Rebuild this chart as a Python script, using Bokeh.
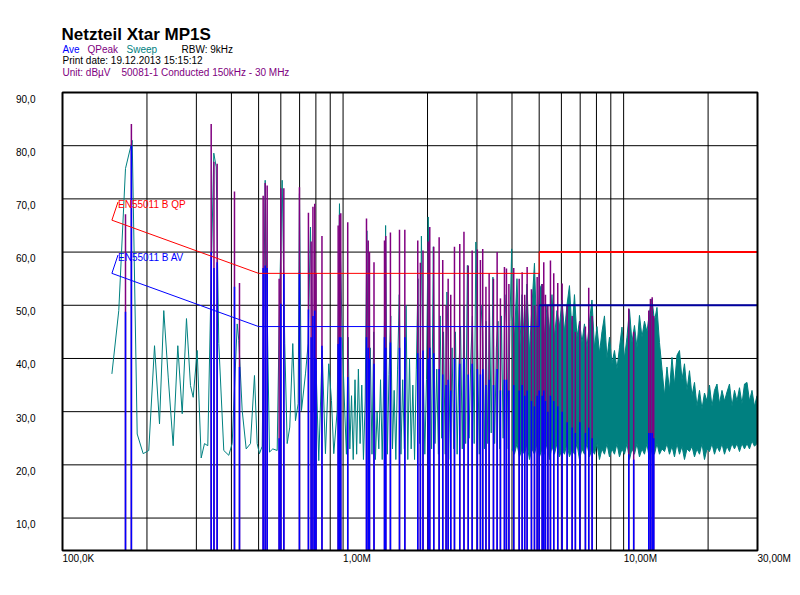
import math
from bokeh.plotting import figure
from bokeh.models import Range1d, ColumnDataSource
from bokeh.core.properties import value
from bokeh.embed import file_html
from bokeh.resources import INLINE

# ---------------- data (frequency in kHz, level in dBuV) ----------------
sweep_f = [150, 158.7, 167.7, 177.2, 184.6, 193.9, 203.0, 212.8, 221.7, 229.6, 238.1, 248.0, 257.6,
           267.1, 276.6, 285.9, 292.3, 302.0, 312.1, 320.7, 329.5, 336.9, 346.1, 353.0, 360.6, 375.7,
           391.4, 402.5, 419.4, 425.0, 437.0, 451.6, 467.7, 483.3, 494.1, 503.5, 515.0, 527.7, 536.4,
           546.7, 561.7, 582.3, 593.4, 606.7, 619.7, 632.1, 645.7, 661.8, 676.7, 691.8, 699.0, 710.7,
           734.5, 750.9, 765.2, 786.2, 801.8, 819.1, 842.3, 865.4, 889.2, 909.3, 926.7, 952.8, 971.0,
           992.7,
           1014, 1028, 1043, 1057, 1072, 1087, 1103, 1118, 1134, 1150, 1166, 1182, 1199, 1216, 1233,
           1250, 1268, 1286, 1304, 1322, 1341, 1360, 1379, 1398, 1418, 1438, 1458, 1479, 1500, 1521,
           1542, 1564, 1586, 1608, 1631, 1654, 1677, 1701, 1725, 1749, 1773, 1798, 1824, 1849, 1875,
           1902, 1929, 1956, 1983, 2011, 2039, 2068, 2097, 2127, 2157, 2187, 2218, 2249, 2281, 2313,
           2345, 2378, 2412, 2446, 2480, 2515, 2550, 2586, 2623, 2660, 2697, 2735, 2774, 2813, 2852,
           2892, 2933, 2974, 3016, 3059, 3102, 3145, 3190, 3235, 3280, 3326, 3373, 3421, 3469, 3518,
           3567, 3617, 3668, 3720, 3772, 3826, 3880, 3934, 3990]
sweep_db = [37.1, 49.0, 75.7, 81.0, 25.8, 22.1, 22.7, 42.4, 27.7, 49.0, 36.5, 23.6, 42.4,
            29.6, 47.5, 34.9, 32.7, 41.5, 21.3, 24.0, 23.6, 49.0, 78.6, 76.0, 42.8, 22.7,
            21.8, 24.0, 46.5, 43.4, 30.2, 23.0, 24.0, 36.8, 24.0, 22.1, 23.5, 73.5, 49.0,
            22.4, 23.0, 22.7, 50.3, 73.5, 42.8, 24.0, 27.1, 42.8, 28.3, 31.5, 71.0, 30.2,
            37.1, 42.8, 64.7, 30.2, 37.7, 20.8, 41.5, 22.1, 39.0, 32.1, 22.1, 30.2, 69.1,
            44.0,
            30.0, 22.0, 44.0, 23.0, 33.0, 21.0, 36.0, 22.0, 38.0, 24.0, 35.0, 21.0, 32.0, 64.0, 26.0,
            42.0, 22.0, 45.0, 21.0, 30.0, 23.0, 36.0, 21.0, 38.0, 65.0, 22.0, 37.0, 48.0, 23.0, 34.0,
            21.0, 38.0, 52.0, 22.0, 36.0, 23.0, 50.0, 21.0, 40.0, 23.0, 35.0, 21.0, 38.0, 55.0, 24.0,
            63.0, 40.0, 22.0, 36.0, 66.6, 44.0, 23.0, 61.0, 24.0, 38.0, 22.0, 48.0, 25.0, 45.0, 22.0,
            52.5, 40.0, 21.0, 42.0, 23.0, 45.0, 22.0, 38.0, 46.0, 23.0, 50.0, 24.0, 57.5, 25.0, 40.0,
            48.0, 24.0, 61.9, 42.0, 22.0, 50.0, 45.0, 23.0, 47.0, 24.0, 50.0, 26.0, 55.3, 24.0, 42.0,
            47.0, 23.0, 48.0, 25.0, 52.0, 46.0, 23.0, 47.0, 60.6]

# dense part of the sweep: upper and lower edge of the trace
band_f = [4000, 4083, 4167, 4253, 4341, 4431, 4523, 4617, 4713, 4810, 4910, 5012, 5116, 5222,
          5330, 5441, 5553, 5669, 5786, 5906, 6029, 6153, 6281, 6411, 6544, 6680, 6818, 6960,
          7104, 7251, 7402, 7555, 7712, 7872, 8035, 8201, 8371, 8545, 8722, 8903, 9087, 9276,
          9468, 9665, 9865, 10070, 10278, 10491, 10709, 10931, 11158, 11389, 11625, 11866, 12112,
          12363, 12619, 12881, 13148, 13420, 13699, 13983, 14272, 14568, 14870, 15179, 15493,
          15815, 16142, 16477, 16819, 17167, 17523, 17887, 18257, 18636, 19022, 19417, 19819,
          20230, 20650, 21078, 21515, 21961, 22416, 22881, 23355, 23839, 24333, 24838, 25353,
          25878, 26415, 26963, 27521, 28092, 28674, 29269, 29875]
band_hi = [48.0, 44.0, 55.0, 40.0, 52.0, 42.0, 54.0, 41.0, 50.0, 57.9, 43.0, 53.0, 54.0, 44.0,
           50.0, 45.0, 52.0, 44.0, 49.0, 46.0, 51.0, 45.0, 50.0, 53.7, 45.0, 52.0, 44.0, 47.0,
           43.0, 46.5, 42.0, 47.0, 51.0, 42.0, 46.0, 41.0, 45.0, 48.0, 40.0, 44.0, 39.0, 41.5,
           38.0, 42.0, 45.9, 40.0, 44.0, 49.2, 43.0, 46.2, 42.0, 48.1, 44.0, 47.0, 45.0,
           48.7, 51.2, 47.0, 49.6, 43.0, 38.0, 33.0, 38.4, 34.0, 40.2, 35.0, 40.6,
           41.5, 36.0, 39.0, 34.0, 37.7, 33.0, 35.5, 31.0, 34.0, 30.5, 33.5, 32.0,
           35.0, 31.0, 34.0, 35.2, 31.5, 34.0, 32.0, 33.7, 35.2, 31.0, 34.0, 32.0,
           34.5, 31.5, 35.2, 35.5, 32.0, 34.0, 31.0, 33.0]
band_lo = [23.0, 22.0, 24.0, 21.5, 23.0, 22.0, 24.0, 21.0, 23.0, 22.0, 24.0, 21.5, 23.0, 22.0,
           24.0, 21.0, 23.5, 22.0, 24.0, 21.5, 23.0, 22.0, 24.0, 21.5, 23.0, 22.0, 24.0, 21.0,
           23.0, 22.0, 24.0, 21.5, 23.0, 22.0, 24.0, 21.0, 23.0, 22.0, 24.0, 21.5, 23.0, 22.0,
           24.0, 21.5, 23.0, 22.0, 24.0, 21.0, 23.0, 22.0, 24.0, 21.5, 23.0, 22.0, 24.0,
           21.0, 23.0, 22.0, 24.0, 22.0, 23.0, 22.5, 24.0, 22.0, 23.5, 21.5, 24.0,
           22.0, 23.5, 21.0, 23.0, 22.5, 23.5, 21.5, 23.0, 22.0, 24.0, 21.0, 23.0,
           22.5, 24.0, 22.0, 23.5, 22.5, 24.0, 22.0, 23.5, 22.5, 24.0, 23.0, 24.0,
           22.5, 24.0, 23.0, 24.0, 23.0, 24.5, 23.5, 24.0]

# final measurements (QPeak / Average) at the detected peaks
peak_f = [167.7, 176.0, 338.8, 346.6, 355.8, 410.2, 427.4, 519.0, 527.7, 536.4, 591.8, 600.0,
          615.0, 699.0, 752.6, 769.4, 780.9, 792.5, 800.8, 841.0, 960.5, 971.0, 981.3, 1039,
          1212, 1229, 1242, 1289, 1405, 1420, 1475, 1589, 1660, 1846, 1886, 1927, 2011, 2037,
          2105, 2200, 2266, 2329, 2369, 2420, 2495, 2606, 2697, 2793, 2885, 3010, 3087, 3146,
          3230, 3316, 3436, 3541, 3638, 3760, 3822, 3900, 4058, 4243, 4348, 4440, 4530, 4693,
          4810, 4918, 5000, 5124, 5192, 5264, 5370, 5485, 5635, 5823, 6037, 6290, 6553, 6730,
          6980, 7308, 7509, 7721, 10430, 10860, 12290, 12460, 12640, 12800]
peak_qp = [67.1, 84.1, 84.1, 77.0, 76.6, 71.4, 54.2, 70.6, 73.0, 72.5, 55.0, 72.0,
           72.0, 72.2, 67.4, 62.0, 68.5, 69.1, 56.0, 63.0, 65.0, 67.0, 67.3, 65.6,
           66.3, 62.2, 60.0, 58.1, 62.2, 63.0, 63.7, 64.2, 64.2, 62.2, 58.0, 60.3, 62.0, 64.7,
           61.0, 62.8, 58.5, 50.0, 55.0, 52.0, 61.0, 61.5, 63.8, 57.5, 60.3, 60.5, 58.5, 60.6,
           53.5, 56.0, 55.0, 60.0, 51.3, 57.2, 56.9, 54.0, 57.0, 55.0, 56.2, 52.0, 57.2, 53.0,
           50.0, 55.3, 56.0, 54.0, 58.1, 52.0, 50.0, 58.4, 56.0, 54.2, 54.1, 50.0, 48.0, 45.0,
           47.0, 46.0, 53.3, 48.0, 49.4, 45.0, 49.0, 51.2, 51.5, 48.0]
peak_av = [48.8, 80.0, 60.0, 57.0, 58.1, 53.5, 38.4, 57.0, 57.5, 57.0, 25.0, 50.3,
           56.0, 56.2, 49.2, 44.0, 48.0, 49.0, 40.0, 42.4, 42.7, 44.0, 44.0, 36.5,
           44.0, 42.0, 40.0, 39.0, 44.0, 42.0, 43.0, 42.0, 44.0, 41.0, 40.0, 41.5, 40.0, 42.0,
           41.0, 38.0, 37.0, 35.0, 36.0, 34.0, 40.0, 39.0, 40.0, 37.0, 39.0, 38.0, 37.0, 38.0,
           35.0, 36.0, 35.0, 38.0, 34.0, 36.0, 36.0, 34.0, 35.0, 34.0, 35.0, 33.0, 34.0, 32.0,
           31.0, 33.0, 34.0, 33.0, 34.0, 32.0, 30.0, 33.0, 32.0, 31.0, 30.0, 28.0, 27.0, 26.0,
           28.0, 26.0, 27.0, 25.0, 22.0, 21.0, 26.0, 26.0, 26.0, 25.0]

# EN55011 class B limits
limit_f = [150, 500, 5000, 5000, 30000]
limit_qp = [66, 56, 56, 60, 60]
limit_av = [56, 46, 46, 50, 50]

# axis ticks / labels
y_ticks = [10, 20, 30, 40, 50, 60, 70, 80, 90]
y_tick_labels = ["10,0", "20,0", "30,0", "40,0", "50,0", "60,0", "70,0", "80,0", "90,0"]
x_label_ticks = [100, 1000, 10000, 30000]
x_tick_labels = ["100,0K", "1,00M", "10,00M", "30,00M"]

# ---------------- layout / styling ----------------
FONT = "Liberation Sans"
TEAL = "#008080"
PURPLE = "#800080"
BLUE = "#0000ff"
RED = "#ff0000"

F_MIN, F_MAX = 100, 30000
Y_MIN, Y_MAX = 3.9, 90
BOX_L, BOX_R, BOX_T, BOX_B = 62, 757, 92, 550
W, H = 800, 595
PPD = (BOX_R - BOX_L) / math.log10(F_MAX / F_MIN)
PPDB = (BOX_B - BOX_T) / (Y_MAX - Y_MIN)


def fx(px):
    return F_MIN * 10 ** ((px - BOX_L) / PPD)


def fy(py):
    return Y_MAX - (py - BOX_T) / PPDB


p = figure(width=W, height=H, x_axis_type="log", x_axis_location=None, y_axis_location=None,
           x_range=Range1d(fx(0), fx(W)), y_range=Range1d(fy(H), fy(0)),
           output_backend="svg", toolbar_location=None, min_border=0)
p.grid.visible = False
p.outline_line_color = None
p.background_fill_color = "white"
p.border_fill_color = "white"

# grid
x_grid = [m * d for d in (100, 1000, 10000) for m in range(1, 10) if F_MIN < m * d < F_MAX]
y_grid = y_ticks[:-1]
p.segment(x0=x_grid, y0=Y_MIN, x1=x_grid, y1=Y_MAX, line_color="black", line_width=1)
p.segment(x0=F_MIN, y0=y_grid, x1=F_MAX, y1=y_grid, line_color="black", line_width=1)

# sweep trace
p.line(sweep_f + band_f[:1], sweep_db + band_hi[:1], line_color=TEAL, line_width=1)
p.varea(x=band_f, y1=band_lo, y2=band_hi, fill_color=TEAL)
p.line(band_f, band_hi, line_color=TEAL, line_width=1)
p.line(band_f, band_lo, line_color=TEAL, line_width=1)

# QPeak and Average measurements
src = ColumnDataSource(dict(f=peak_f, qp=peak_qp, av=peak_av))
p.segment(x0="f", y0=Y_MIN, x1="f", y1="qp", source=src, line_color=PURPLE, line_width=1.5)
p.segment(x0="f", y0=Y_MIN, x1="f", y1="av", source=src, line_color=BLUE, line_width=1.5)

# limit lines
p.line(limit_f[:4], limit_qp[:4], line_color=RED, line_width=1)
p.line(limit_f[3:], limit_qp[3:], line_color=RED, line_width=2)
p.line(limit_f[:4], limit_av[:4], line_color=BLUE, line_width=1)
p.line(limit_f[3:], limit_av[3:], line_color="#0000a0", line_width=2)

# limit labels with leaders
LBL_X = 117.5
p.line([limit_f[0], fx(LBL_X)], [limit_qp[0], fy(201.5)], line_color=RED, line_width=1)
p.line([limit_f[0], fx(LBL_X)], [limit_av[0], fy(254.5)], line_color=BLUE, line_width=1)
p.text(x=[fx(LBL_X)], y=[fy(203.5)], text=["EN55011 B QP"], text_color=RED,
       text_font=value(FONT), text_font_size="10px", text_baseline="middle")
p.text(x=[fx(LBL_X)], y=[fy(256.7)], text=["EN55011 B AV"], text_color=BLUE,
       text_font=value(FONT), text_font_size="10px", text_baseline="middle")

# tick labels
p.text(x=[fx(15.5)] * len(y_ticks), y=[v - 6 / PPDB for v in y_ticks], text=y_tick_labels,
       text_color="black", text_font=value(FONT), text_font_size="10px",
       text_align="left", text_baseline="middle")
p.text(x=x_label_ticks, y=[fy(557.5)] * len(x_label_ticks), text=x_tick_labels,
       text_color="black", text_font=value(FONT), text_font_size="10px",
       text_align="left", text_baseline="middle")


# header
def head(px, py, text, color, size="10px", style="normal"):
    p.text(x=[fx(px)], y=[fy(py)], text=[text], text_color=color, text_font=value(FONT),
           text_font_size=size, text_font_style=style, text_baseline="middle")


head(61, 34, "Netzteil Xtar MP1S", "black", "17px", "bold")
head(62, 48.5, "Ave", BLUE)
head(87, 48.5, "QPeak", PURPLE)
head(126, 48.5, "Sweep", TEAL)
head(181, 48.5, "RBW: 9kHz", "black")
head(62, 60, "Print date: 19.12.2013 15:15:12", "black")
head(62, 71.5, "Unit: dB\u00b5V", PURPLE)
head(121, 71.5, "50081-1 Conducted 150kHz - 30 MHz", PURPLE)

# plot box
p.quad(left=F_MIN, right=F_MAX, bottom=Y_MIN, top=Y_MAX, fill_color=None,
       line_color="black", line_width=2)

open("out.html", "w").write(file_html(p, INLINE))
